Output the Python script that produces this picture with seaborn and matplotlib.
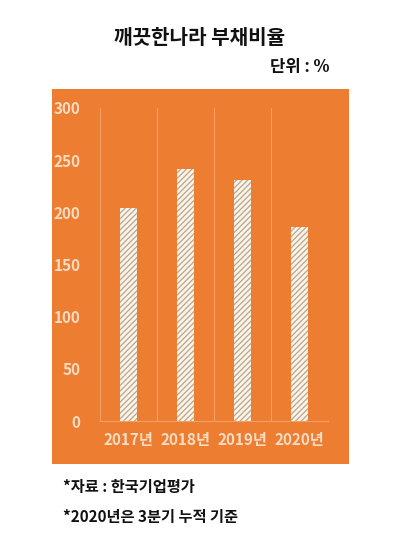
import matplotlib.pyplot as plt
import seaborn as sns
import pandas as pd
from matplotlib.patches import Rectangle

years = ['2017년', '2018년', '2019년', '2020년']
ratio = [204, 242, 231, 186]
y_ticks = [0, 50, 100, 150, 200, 250, 300]

title = '깨끗한나라 부채비율'
unit = '단위 : %'
notes = ['*자료 : 한국기업평가', '*2020년은 3분기 누적 기준']

ORANGE = '#ED7D31'
CREAM = '#F9DCC4'
LINE = '#F3A064'

sns.set_style('white')
plt.rcParams['font.family'] = ['Noto Sans CJK KR', 'DejaVu Sans']
plt.rcParams['hatch.linewidth'] = 1.0

df = pd.DataFrame({'year': years, 'ratio': ratio})

fig = plt.figure(figsize=(4, 5.57), dpi=100)
fig.patches.append(Rectangle((52 / 400, 1 - 464 / 557), 297 / 400, 375 / 557,
                             transform=fig.transFigure, facecolor=ORANGE,
                             edgecolor='none', zorder=-5))

ax = fig.add_axes([100 / 400, 1 - 421 / 557, 228 / 400, 313 / 557])
ax.set_facecolor('none')
sns.barplot(data=df, x='year', y='ratio', ax=ax, width=0.3,
            color='#FBF6EE', edgecolor='#C4A98A', linewidth=0, hatch='//////')

ax.set_ylim(0, 300)
ax.set_xlim(-0.5, 3.5)
ax.set_yticks(y_ticks)
ax.set_xticks(range(len(years)))
ax.set_xticklabels(years)
ax.tick_params(axis='x', colors=CREAM, labelsize=11, length=0, pad=8)
ax.tick_params(axis='y', colors=CREAM, labelsize=11, length=0, pad=14)
for lab in ax.get_xticklabels() + ax.get_yticklabels():
    lab.set_fontweight('bold')
ax.set_xlabel('')
ax.set_ylabel('')
for s in ['top', 'right', 'left']:
    ax.spines[s].set_visible(False)
ax.spines['bottom'].set_color(LINE)
ax.spines['bottom'].set_linewidth(0.8)
for xb in [-0.5, 0.5, 1.5, 2.5, 3.5]:
    ax.axvline(xb, color=LINE, linewidth=0.8, zorder=0)

fig.text(0.5, 1 - 38 / 557, title, ha='center', va='center',
         fontsize=14.5, fontweight='bold', color='#111111')
fig.text(330 / 400, 1 - 67 / 557, unit, ha='right', va='center',
         fontsize=12, fontweight='bold', color='#111111')
fig.text(63 / 400, 1 - 487 / 557, notes[0], ha='left', va='center',
         fontsize=11, fontweight='bold', color='#111111')
fig.text(63 / 400, 1 - 517 / 557, notes[1], ha='left', va='center',
         fontsize=11, fontweight='bold', color='#111111')

fig.savefig('out.png', dpi=100)
